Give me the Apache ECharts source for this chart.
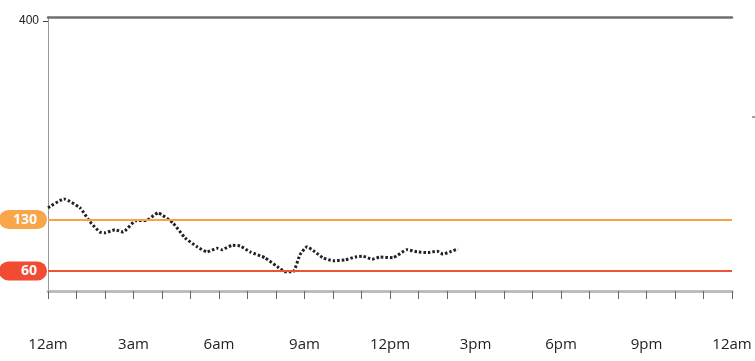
<!DOCTYPE html>
<html><head><meta charset="utf-8">
<script src="https://cdn.jsdelivr.net/npm/echarts@6/dist/echarts.min.js"></script>
<style>html,body{margin:0;padding:0;background:#fff}#c{width:755px;height:361px}</style>
</head><body><div id="c"></div>
<script>
const hours = [0,0.56,1.12,1.47,1.82,2.0,2.35,2.63,3.05,3.47,3.86,4.39,4.81,5.23,5.58,5.93,6.1,6.46,6.74,7.09,7.61,8.04,8.32,8.6,8.84,9.09,9.37,9.65,10.0,10.42,10.77,11.05,11.37,11.65,12.1,12.6,12.95,13.33,13.65,13.86,14.1,14.39];
const glucose = [146,158,146,127,113,112,116,113,128,129,139,125,105,93,86,91,89,95,94,86,78,66,59,59,82,93,86,78,74,75,79,80,76,79,78,89,86,85,87,83,86,90];
const tickLabels = {0:'12am',3:'3am',6:'6am',9:'9am',12:'12pm',15:'3pm',18:'6pm',21:'9pm',24:'12am'};
const highTarget = 130, lowTarget = 60;
const yLabelValues = [400];

const chart = echarts.init(document.getElementById('c'), null, {renderer:'canvas'});
chart.setOption({
  animation:false,
  textStyle:{fontFamily:'Open Sans'},
  grid:{left:48,right:23,top:17,bottom:70,show:false},
  xAxis:[{
    type:'value',min:0,max:24,interval:1,
    axisLine:{show:true,lineStyle:{color:'#bdbdbd',width:3}},
    axisTick:{show:true,length:8,lineStyle:{color:'#666',width:1}},
    splitLine:{show:false},
    axisLabel:{margin:46,fontSize:15,color:'#222',fontFamily:'Open Sans',
      formatter:v=>tickLabels[v]||'',interval:0}
  },{
    type:'value',min:0,max:24,position:'top',
    axisLine:{show:true,onZero:false,lineStyle:{color:'#6f6f6f',width:2.5}},
    axisTick:{show:false},axisLabel:{show:false},splitLine:{show:false}
  }],
  yAxis:[{
    type:'value',min:32.8,max:405.4,
    axisLine:{show:true,lineStyle:{color:'#888',width:1}},
    axisTick:{show:true,length:5,customValues:yLabelValues,lineStyle:{color:'#444'}},
    axisLabel:{customValues:yLabelValues,fontSize:12,color:'#222',margin:9,fontFamily:'Arial'},
    splitLine:{show:false}
  },{
    type:'value',min:32.8,max:405.4,position:'right',
    axisLine:{show:true,lineStyle:{color:'#999',width:1}},
    axisTick:{show:false},axisLabel:{show:false},splitLine:{show:false}
  }],
  series:[{
    type:'line',
    data:hours.map((h,i)=>[h,glucose[i]]),
    smooth:0.15,symbol:'none',
    lineStyle:{color:'#222',width:3,type:[2.5,2]},
    markLine:{
      silent:true,symbol:'none',
      data:[
        {yAxis:highTarget,lineStyle:{color:'#F7A24A',width:2,type:'solid'},
         label:{position:'start',distance:1,formatter:'130',color:'#fff',fontWeight:'bold',fontSize:14,lineHeight:17,
           backgroundColor:'#F9A54A',borderRadius:10,padding:[1,10,1,14],fontFamily:'Open Sans'}},
        {yAxis:lowTarget,lineStyle:{color:'#EE5338',width:2,type:'solid'},
         label:{position:'start',distance:1,formatter:'60',color:'#fff',fontWeight:'bold',fontSize:14,lineHeight:17,
           backgroundColor:'#F24B33',borderRadius:10,padding:[1,10,1,22],fontFamily:'Open Sans'}}
      ]
    }
  }],
  graphic:[{type:'line',shape:{x1:752,y1:117,x2:755,y2:117},style:{stroke:'#444',lineWidth:1}}]
});
</script></body></html>
